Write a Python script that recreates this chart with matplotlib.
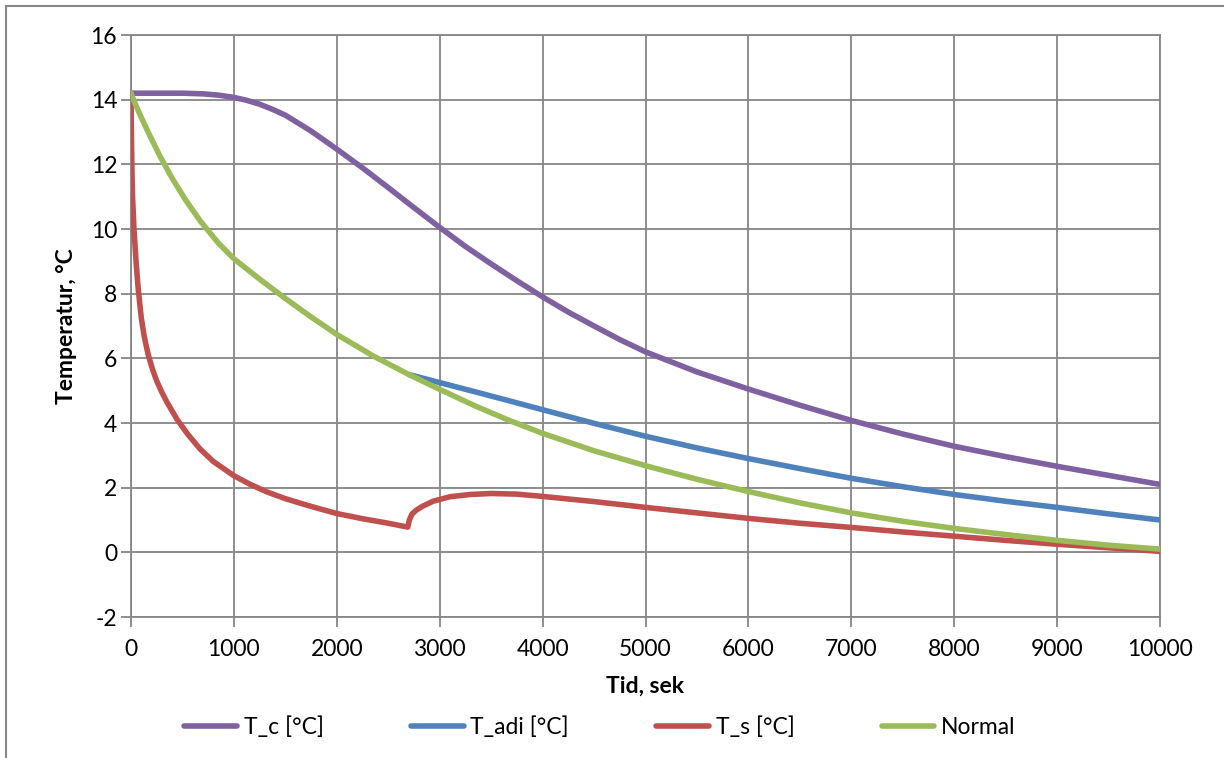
import matplotlib.pyplot as plt
from matplotlib.lines import Line2D

# values (time in s, temperature in C)
t_c_time = [0, 300, 500, 700, 850, 1000, 1125, 1250, 1375, 1500, 1750, 2000, 2250,
            2500, 2750, 3000, 3250, 3500, 3750, 4000, 4250, 4500, 4750, 5000,
            5500, 6000, 6500, 7000, 7500, 8000, 8500, 9000, 9500, 10000]
t_c_vals = [14.2, 14.2, 14.2, 14.18, 14.14, 14.07, 13.98, 13.86, 13.7, 13.52, 13.03,
            12.47, 11.89, 11.28, 10.66, 10.05, 9.46, 8.92, 8.4, 7.9, 7.43, 7.0,
            6.58, 6.2, 5.58, 5.05, 4.55, 4.08, 3.66, 3.28, 2.96, 2.66, 2.38, 2.1]

t_adi_time = [2700, 3000, 3350, 3683, 4000, 4500, 5000, 5500, 6000, 6500, 7000,
              7500, 8000, 8500, 9000, 9500, 10000]
t_adi_vals = [5.5, 5.25, 4.96, 4.68, 4.41, 3.99, 3.59, 3.23, 2.9, 2.59, 2.29, 2.03,
              1.79, 1.58, 1.39, 1.19, 1.0]

t_s_time = [0, 3, 8, 15, 29, 50, 71, 100, 130, 168, 210, 250, 300, 350, 450, 550,
            670, 800, 1000, 1160, 1320, 1500, 1750, 2000, 2250, 2500, 2690,
            2705, 2730, 2770, 2830, 2935, 3100, 3300, 3500, 3750, 4000, 4500, 5000,
            5500, 6000, 6500, 7000, 7500, 8000, 8500, 9000, 9500, 10000]
t_s_vals = [14.2, 13.2, 12.0, 11.0, 10.0, 8.95, 8.12, 7.25, 6.65, 6.1, 5.65, 5.3,
            4.95, 4.64, 4.1, 3.66, 3.2, 2.81, 2.37, 2.1, 1.87, 1.66, 1.42, 1.2,
            1.04, 0.9, 0.78, 1.0, 1.18, 1.3, 1.42, 1.58, 1.72, 1.79, 1.82, 1.8,
            1.73, 1.57, 1.39, 1.22, 1.05, 0.9, 0.77, 0.63, 0.5, 0.37, 0.25, 0.14,
            0.03]

normal_time = [0, 40, 100, 175, 282, 400, 530, 670, 850, 1000, 1250, 1500, 1750,
               2000, 2350, 2700, 3000, 3350, 3683, 4000, 4500, 5000, 5500, 6000,
               6500, 7000, 7500, 8000, 8500, 9000, 9500, 10000]
normal_vals = [14.2, 13.88, 13.45, 12.94, 12.25, 11.57, 10.9, 10.26, 9.56, 9.08,
               8.45, 7.85, 7.28, 6.74, 6.08, 5.5, 5.04, 4.52, 4.07, 3.68, 3.14,
               2.68, 2.26, 1.88, 1.53, 1.22, 0.96, 0.74, 0.55, 0.37, 0.22, 0.1]

series = [
    ("T_c [°C]", t_c_time, t_c_vals, "#7f60a0"),
    ("T_adi [°C]", t_adi_time, t_adi_vals, "#4f81bd"),
    ("T_s [°C]", t_s_time, t_s_vals, "#c0504d"),
    ("Normal", normal_time, normal_vals, "#9bbb59"),
]

plt.rcParams['font.family'] = ['Lato', 'DejaVu Sans']
plt.rcParams['axes.unicode_minus'] = False

W, H = 1224, 758
fig = plt.figure(figsize=(W / 100, H / 100), dpi=100)
ax = fig.add_axes([131 / W, (H - 617) / H, (1160 - 131) / W, (617 - 35) / H])

for name, t, v, col in series:
    ax.plot(t, v, color=col, lw=4, label=name, solid_capstyle='round',
            solid_joinstyle='round', zorder=3)

ax.set_xlim(0, 10000)
ax.set_ylim(-2, 16)
ax.set_xticks(range(0, 10001, 1000))
ax.set_yticks(range(-2, 17, 2))
ax.grid(True, color="#868686", lw=1.3)
ax.set_axisbelow(True)
for s in ax.spines.values():
    s.set_color("#868686")
    s.set_linewidth(1.3)
ax.tick_params(colors="#868686", labelcolor="black", labelsize=16.5, length=7,
               width=1.3)
ax.tick_params(axis='x', pad=9)
ax.tick_params(axis='y', pad=3)

ax.set_xlabel("Tid, sek", fontsize=16.5, fontweight='bold', labelpad=11)
ax.set_ylabel("Temperatur, °C", fontsize=16.5, fontweight='bold', labelpad=10)

fig.legend(loc='center', bbox_to_anchor=(600 / W, (H - 727) / H), ncol=4,
           frameon=False, fontsize=16.5, handlelength=2.3, handletextpad=0.3,
           columnspacing=3.8)

# outer chart border (only top and left visible in the reference)
fig.add_artist(Line2D([6 / W, 1], [1 - 6 / H, 1 - 6 / H], color="#868686", lw=1.5))
fig.add_artist(Line2D([6 / W, 6 / W], [0, 1 - 6 / H], color="#868686", lw=1.5))

fig.savefig("out.png", dpi=100)
